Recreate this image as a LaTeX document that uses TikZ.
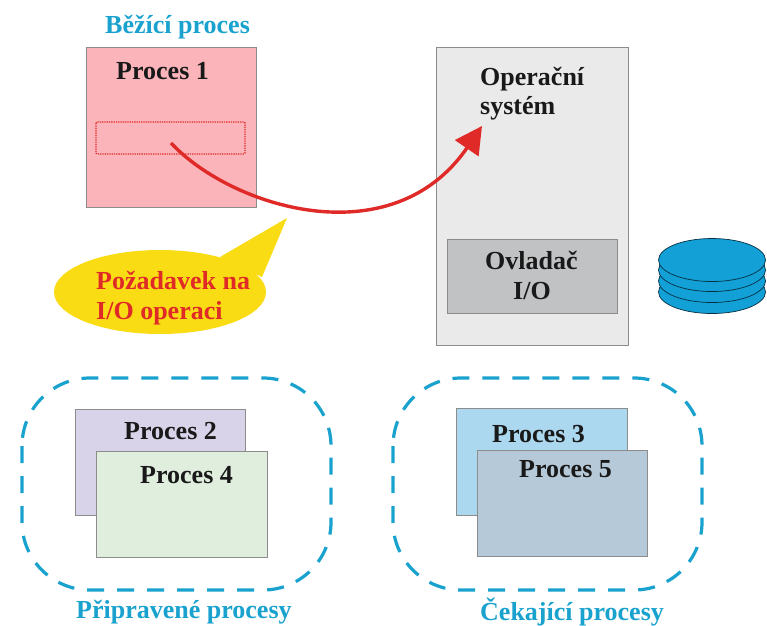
\documentclass[tikz,border=0pt]{standalone}
\usepackage{fontspec}
\setmainfont{Liberation Serif}
\usetikzlibrary{shapes.geometric,arrows.meta}
\definecolor{cy}{HTML}{1AA2CF}
\definecolor{rd}{HTML}{E02A28}
\definecolor{edge}{HTML}{8C8C8C}
\definecolor{diskc}{HTML}{12A0D7}
\tikzset{
  lbl/.style={font=\fontsize{26}{30}\selectfont\bfseries,inner sep=0pt,anchor=base west,text=black!90},
  cylbl/.style={lbl,text=cy},
  rdlbl/.style={lbl,text=rd},
  procbox/.style={draw=edge,line width=0.8pt},
  group/.style={draw=cy,line width=3.2pt,dash pattern=on 17pt off 13pt,rounded corners=68pt},
  platter/.style={ellipse,draw=black!70!diskc,line width=0.7pt,fill=diskc,minimum width=107pt,minimum height=43pt,inner sep=0pt}
}
\begin{document}
\begin{tikzpicture}[x=1pt,y=-1pt]
\useasboundingbox (0,0) rectangle (767,625);
\fill[white] (0,0) rectangle (767,625);
% main boxes
\draw[procbox,fill={rgb,255:red,251;green,180;blue,186}] (86,47) rectangle (256,207);
\draw[draw=rd,densely dotted,line width=1.3pt,rounded corners=1pt] (96,122) rectangle (245,154);
\draw[procbox,fill={rgb,255:red,234;green,234;blue,234}] (436,47) rectangle (628,345);
\draw[procbox,fill={rgb,255:red,192;green,194;blue,196}] (447,239) rectangle (617,313);
% callout
\fill[fill={rgb,255:red,249;green,220;blue,20}] (160,292) ellipse [x radius=106, y radius=42];
\fill[fill={rgb,255:red,249;green,220;blue,20}] (220,257) -- (287,218) -- (262,277) -- cycle;
% disk
\node[platter] (d4) at (712,292) {};
\node[platter] (d3) at (712,281) {};
\node[platter] (d2) at (712,270) {};
\node[platter] (d1) at (712,260) {};
% groups
\draw[group] (22,378) rectangle (331,590);
\draw[group] (393,378) rectangle (702,590);
% lower boxes
\draw[procbox,fill={rgb,255:red,216;green,211;blue,232}] (75,409) rectangle (245,515);
\draw[procbox,fill={rgb,255:red,223;green,238;blue,221}] (96,451) rectangle (267,557);
\draw[procbox,fill={rgb,255:red,171;green,215;blue,239}] (456,408) rectangle (627,515);
\draw[procbox,fill={rgb,255:red,182;green,201;blue,216}] (477,450) rectangle (647,556);
% arrow
\coordinate (start) at (171,143);
\coordinate (tip) at (482,126);
\draw[rd,line width=3.4pt,-{Triangle[length=27pt,width=28pt]}] (start) .. controls (232,208) and (392,257) .. (tip);
% text
\node[cylbl] (t1) at (105,33) {Běžící proces};
\node[lbl] (t2) at (116,79) {Proces 1};
\node[lbl] (t3) at (480,85) {Operační};
\node[lbl] (t4) at (480,114) {systém};
\node[lbl] (t5) at (485,269) {Ovladač};
\node[lbl] (t6) at (513,299) {I/O};
\node[rdlbl] (t7) at (96,289) {Požadavek na};
\node[rdlbl] (t8) at (96,319) {I/O operaci};
\node[lbl] (t9) at (124,439) {Proces 2};
\node[lbl] (t10) at (140,483) {Proces 4};
\node[lbl] (t11) at (492,442) {Proces 3};
\node[lbl] (t12) at (519,477) {Proces 5};
\node[cylbl] (t13) at (76,618) {Připravené procesy};
\node[cylbl] (t14) at (480,620) {Čekající procesy};
\end{tikzpicture}
\end{document}
